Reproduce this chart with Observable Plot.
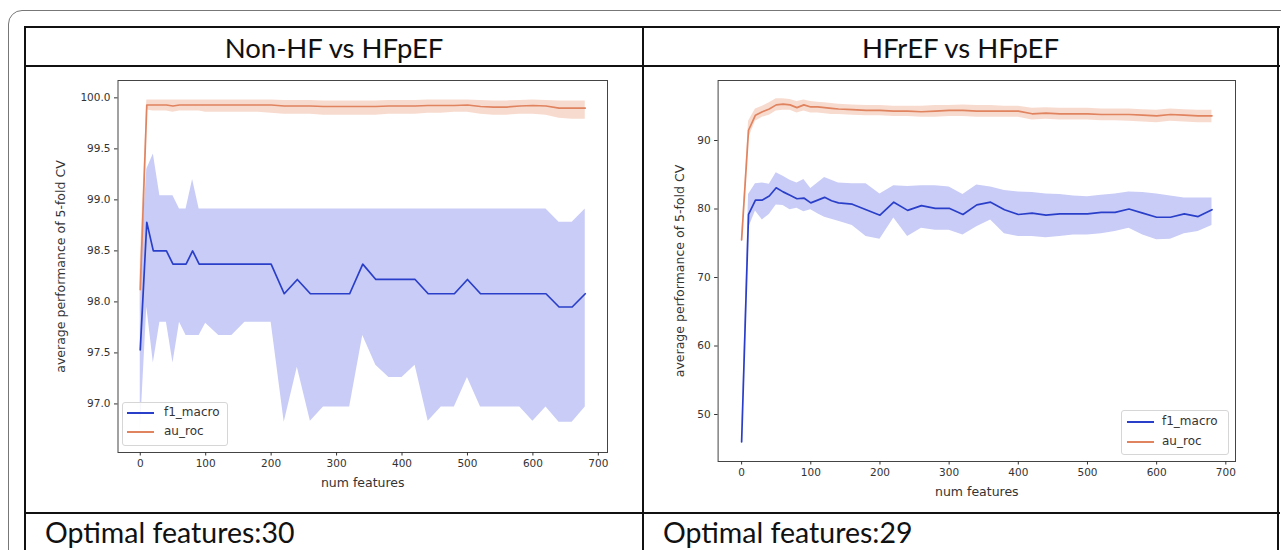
<!DOCTYPE html>
<html><head><meta charset="utf-8">
<script src="https://cdn.jsdelivr.net/npm/d3@7"></script>
<script src="https://cdn.jsdelivr.net/npm/@observablehq/plot@0.6"></script>
<style>
body{margin:0;background:#fff;width:1281px;height:550px;overflow:hidden;position:relative;font-family:Lato,"Open Sans",sans-serif}
.abs{position:absolute}
.hl{position:absolute;background:#111;height:2px}
.vl{position:absolute;background:#111;width:2px}
.title{position:absolute;font-size:27.5px;color:#111;text-align:center;line-height:1}
.opt{position:absolute;font-size:28.5px;color:#111;line-height:1;white-space:nowrap}
.legend{position:absolute;border:1px solid #d6d6d6;border-radius:3px;background:rgba(255,255,255,0.85);font-family:"DejaVu Sans",sans-serif;font-size:12px;color:#333}
.legend .sw{position:absolute;height:2px}
.legend .tx{position:absolute;line-height:1}
g[aria-label="x-axis label"], g[aria-label="y-axis label"]{font-size:12.5px}
</style></head><body>
<script>
// ---------- Data ----------
const titles = ["Non-HF vs HFpEF", "HFrEF vs HFpEF"];
const optimalLabels = ["Optimal features:30", "Optimal features:29"];
const seriesNames = ["f1_macro", "au_roc"];
const xTicks = [0, 100, 200, 300, 400, 500, 600, 700];

// Left panel: Non-HF vs HFpEF
const xLeft = [0,10,20,30,40,50,60,70,80,90,100,120,140,160,180,200,220,240,260,280,300,320,340,360,380,400,420,440,460,480,500,520,540,560,580,600,620,640,660,680];
const f1Left = [97.53,98.78,98.50,98.50,98.50,98.37,98.37,98.37,98.50,98.37,98.37,98.37,98.37,98.37,98.37,98.37,98.08,98.22,98.08,98.08,98.08,98.08,98.37,98.22,98.22,98.22,98.22,98.08,98.08,98.08,98.22,98.08,98.08,98.08,98.08,98.08,98.08,97.95,97.95,98.08];
const f1LeftHi = [98.30,99.30,99.45,99.04,99.04,99.04,98.91,98.91,99.20,98.91,98.91,98.91,98.91,98.91,98.91,98.91,98.91,98.91,98.91,98.91,98.91,98.91,98.91,98.91,98.91,98.91,98.91,98.91,98.91,98.91,98.91,98.91,98.91,98.91,98.91,98.91,98.91,98.78,98.78,98.91];
const f1LeftLo = [96.72,97.95,97.40,97.80,97.80,97.40,97.80,97.67,97.67,97.67,97.79,97.67,97.67,97.80,97.80,97.80,96.82,97.36,96.83,96.97,96.97,96.97,97.67,97.38,97.26,97.26,97.38,96.83,96.97,96.97,97.26,96.97,96.97,96.97,96.97,96.83,96.97,96.82,96.82,96.97];
const rocLeft = [98.12,99.93,99.93,99.93,99.93,99.92,99.93,99.93,99.93,99.93,99.93,99.93,99.93,99.93,99.93,99.93,99.92,99.92,99.92,99.915,99.915,99.915,99.915,99.915,99.92,99.92,99.92,99.925,99.925,99.925,99.93,99.915,99.91,99.91,99.92,99.925,99.92,99.90,99.90,99.90];
const rocLeftHi = [98.40,99.98,99.98,99.98,99.98,99.98,99.98,99.98,99.98,99.98,99.98,99.98,99.98,99.98,99.98,99.98,99.975,99.975,99.975,99.97,99.97,99.97,99.97,99.97,99.975,99.975,99.975,99.98,99.98,99.98,99.98,99.975,99.97,99.97,99.975,99.98,99.975,99.97,99.97,99.97];
const rocLeftLo = [97.85,99.88,99.87,99.87,99.87,99.86,99.87,99.87,99.87,99.87,99.86,99.86,99.86,99.86,99.86,99.85,99.84,99.84,99.84,99.83,99.83,99.83,99.83,99.83,99.84,99.84,99.84,99.85,99.85,99.86,99.86,99.84,99.83,99.83,99.84,99.84,99.83,99.80,99.79,99.79];

// Right panel: HFrEF vs HFpEF
const xRight = [0,10,20,30,40,50,60,70,80,90,100,110,120,130,140,160,180,200,220,240,260,280,300,320,340,360,380,400,420,440,460,480,500,520,540,560,580,600,620,640,660,680];
const f1Right = [46.0,79.2,81.3,81.3,81.9,83.1,82.5,82.0,81.5,81.6,80.9,81.3,81.7,81.2,80.9,80.7,79.9,79.1,81.0,79.8,80.5,80.1,80.1,79.2,80.6,81.0,79.9,79.2,79.4,79.1,79.3,79.3,79.3,79.5,79.5,80.0,79.4,78.8,78.8,79.3,78.9,79.9];
const f1RightHi = [46.6,82.1,83.7,83.8,83.6,85.3,84.8,84.2,83.8,84.3,83.0,83.8,84.6,84.2,83.8,83.7,83.7,82.2,83.4,83.3,83.4,83.4,83.2,82.1,83.5,83.2,82.7,82.5,82.4,82.2,82.1,81.9,81.8,82.0,82.2,82.5,82.4,82.2,81.9,81.6,81.6,81.6];
const f1RightLo = [45.4,77.2,79.7,78.4,79.2,80.6,80.5,79.9,80.1,79.6,79.9,79.3,78.8,78.5,78.2,77.6,76.0,75.6,78.7,76.0,77.2,76.9,76.9,76.2,77.4,78.4,76.4,76.0,76.0,75.8,76.0,76.2,76.2,76.4,76.7,77.2,76.2,75.5,75.6,76.4,76.7,77.6];
const rocRight = [75.5,91.5,93.7,94.2,94.6,95.2,95.3,95.2,94.8,95.2,94.9,94.9,94.8,94.7,94.6,94.5,94.4,94.4,94.3,94.3,94.2,94.3,94.4,94.4,94.3,94.3,94.3,94.3,93.9,94.0,93.9,93.9,93.9,93.8,93.8,93.8,93.7,93.6,93.8,93.7,93.6,93.6];
const rocRightHi = [76.0,92.8,94.6,95.0,95.5,96.1,96.1,96.0,95.7,95.9,95.7,95.6,95.5,95.4,95.3,95.2,95.1,95.1,95.0,95.0,95.0,95.1,95.1,95.2,95.1,95.1,95.0,95.0,94.7,94.8,94.7,94.7,94.7,94.6,94.6,94.6,94.5,94.4,94.6,94.5,94.4,94.4];
const rocRightLo = [75.0,90.3,92.8,93.4,93.7,94.3,94.4,94.4,94.0,94.3,94.0,94.0,93.9,93.8,93.8,93.7,93.6,93.6,93.5,93.5,93.4,93.4,93.5,93.5,93.4,93.4,93.4,93.4,93.0,93.1,93.0,93.0,93.0,92.9,92.9,92.8,92.7,92.6,92.8,92.7,92.6,92.6];

const yTicksLeft = [97.0, 97.5, 98.0, 98.5, 99.0, 99.5, 100.0];
const yTicksRight = [50, 60, 70, 80, 90];

// ---------- Styling ----------
const C = {f1: "#2a3fc9", f1Band: "#c9ccf6", roc: "#e0835f", rocBand: "#f8dbcf", frame: "#444"};

function el(cls, css, text) {
  const d = document.createElement("div");
  d.className = cls;
  Object.assign(d.style, css);
  if (text != null) d.textContent = text;
  document.body.appendChild(d);
  return d;
}

// outer rounded frame
el("abs", {left: "8px", top: "10px", width: "1320px", height: "620px", border: "1.5px solid #777", borderRadius: "14px"});
// table lines
el("hl", {left: "24px", top: "26px", width: "1256px"});
el("hl", {left: "24px", top: "65px", width: "1256px"});
el("hl", {left: "24px", top: "512px", width: "1256px"});
el("vl", {left: "24px", top: "26px", height: "530px"});
el("vl", {left: "642px", top: "26px", height: "530px"});
el("vl", {left: "1277px", top: "26px", height: "530px"});
// titles
el("title", {left: "26px", width: "616px", top: "34px"}, titles[0]);
el("title", {left: "644px", width: "633px", top: "34px"}, titles[1]);
el("opt", {left: "45px", top: "518px"}, optimalLabels[0]);
el("opt", {left: "663px", top: "518px"}, optimalLabels[1]);

function panel(o) {
  const rows = o.X.map((x, i) => ({x, f1: o.f1[i], f1Lo: o.f1Lo[i], f1Hi: o.f1Hi[i], roc: o.roc[i], rocLo: o.rocLo[i], rocHi: o.rocHi[i]}));
  const svg = Plot.plot({
    width: o.width, height: o.height,
    marginLeft: o.ml, marginRight: o.mr, marginTop: o.mt, marginBottom: o.mb,
    style: {fontFamily: "'DejaVu Sans', sans-serif", fontSize: "10.5px", color: "#333", background: "transparent"},
    x: {domain: [-34, 714]},
    y: {domain: o.yDomain},
    marks: [
      Plot.areaY(rows, {x: "x", y1: "f1Lo", y2: "f1Hi", fill: C.f1Band, curve: "linear"}),
      Plot.areaY(rows, {x: "x", y1: "rocLo", y2: "rocHi", fill: C.rocBand, curve: "linear"}),
      Plot.lineY(rows, {x: "x", y: "f1", stroke: C.f1, strokeWidth: 1.7}),
      Plot.lineY(rows, {x: "x", y: "roc", stroke: C.roc, strokeWidth: 1.7}),
      Plot.frame({stroke: C.frame, strokeWidth: 1}),
      Plot.axisX({ticks: xTicks, tickSize: 3.5, tickPadding: 4, label: "num features", labelAnchor: "center", labelArrow: "none", labelOffset: 34}),
      Plot.axisY({ticks: o.yTicks, tickFormat: o.yFmt, tickSize: 3.5, tickPadding: 4, label: "average performance of 5-fold CV", labelAnchor: "center", labelArrow: "none", labelOffset: o.ylo})
    ]
  });
  svg.style.position = "absolute";
  svg.style.left = o.left + "px";
  svg.style.top = o.top + "px";
  document.body.appendChild(svg);
}

panel({X: xLeft, f1: f1Left, f1Lo: f1LeftLo, f1Hi: f1LeftHi, roc: rocLeft, rocLo: rocLeftLo, rocHi: rocLeftHi,
  yDomain: [96.524, 100.17], yTicks: yTicksLeft, yFmt: d3.format(".1f"),
  left: 30, top: 70, width: 600, height: 430, ml: 87.5, mr: 23, mt: 10, mb: 48, ylo: 62});
panel({X: xRight, f1: f1Right, f1Lo: f1RightLo, f1Hi: f1RightHi, roc: rocRight, rocLo: rocRightLo, rocHi: rocRightHi,
  yDomain: [43.14, 98.76], yTicks: yTicksRight, yFmt: d3.format("d"),
  left: 650, top: 70, width: 620, height: 440, ml: 67.6, mr: 35, mt: 10, mb: 49, ylo: 43});

function legend(box, lines) {
  const lg = el("legend", {left: box.x + "px", top: box.y + "px", width: box.w + "px", height: box.h + "px"});
  const cols = [C.f1, C.roc];
  seriesNames.forEach((name, i) => {
    const sw = document.createElement("div");
    sw.className = "sw";
    Object.assign(sw.style, {left: lines.sx + "px", width: "27px", top: (lines.ys[i] - 1) + "px", background: cols[i]});
    lg.appendChild(sw);
    const tx = document.createElement("div");
    tx.className = "tx";
    Object.assign(tx.style, {left: lines.tx + "px", top: (lines.ys[i] - 7) + "px"});
    tx.textContent = name;
    lg.appendChild(tx);
  });
}
legend({x: 122, y: 402, w: 104, h: 42}, {sx: 4, tx: 41, ys: [10, 29]});
legend({x: 1121, y: 410, w: 106, h: 43}, {sx: 5, tx: 40, ys: [11, 31]});
</script>
</body></html>
